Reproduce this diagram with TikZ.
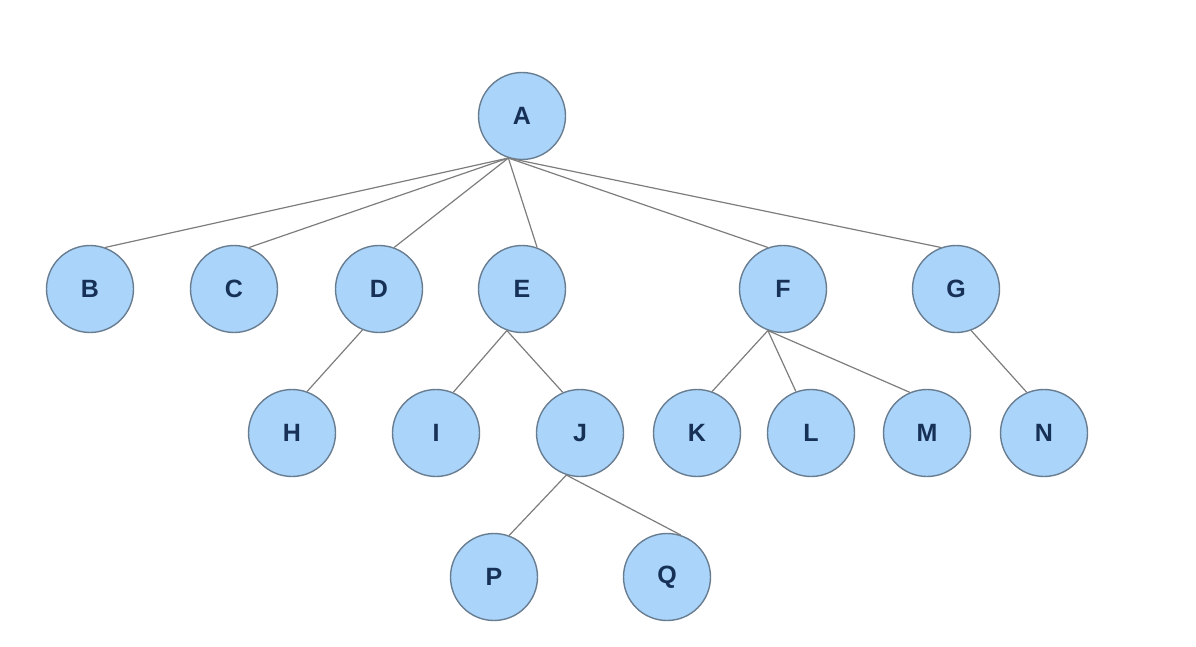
\documentclass[tikz,border=0pt]{standalone}
\usepackage{fontspec}
\setmainfont{Liberation Sans}
\definecolor{nodefill}{RGB}{170,212,250}
\definecolor{nodeedge}{RGB}{105,125,145}
\definecolor{nodetext}{RGB}{22,48,86}
\definecolor{edgecol}{RGB}{125,125,125}
\begin{document}
\begin{tikzpicture}[x=1pt,y=-1pt,
  tnode/.style={circle,draw=nodeedge,fill=nodefill,line width=1.4pt,minimum size=87pt,inner sep=0pt,
    text=nodetext,font=\fontsize{25}{28}\selectfont\bfseries},
  tedge/.style={draw=edgecol,line width=1.2pt}]
\useasboundingbox (0,0) rectangle (1196,647);
% row 1
\node[tnode] (A) at (522,116) {A};
% row 2
\node[tnode] (B) at (90,289) {B};
\node[tnode] (C) at (234,289) {C};
\node[tnode] (D) at (379,289) {D};
\node[tnode] (E) at (522,289) {E};
\node[tnode] (F) at (783,289) {F};
\node[tnode] (G) at (956,289) {G};
% row 3
\node[tnode] (H) at (292,433) {H};
\node[tnode] (I) at (436,433) {I};
\node[tnode] (J) at (580,433) {J};
\node[tnode] (K) at (697,433) {K};
\node[tnode] (L) at (811,433) {L};
\node[tnode] (M) at (927,433) {M};
\node[tnode] (N) at (1044,433) {N};
% row 4
\node[tnode] (P) at (494,577) {P};
\node[tnode] (Q) at (667,577) {Q};
% edges
\path[tedge] (A.-108) -- (B.70);
\path[tedge] (A.-108) -- (C.70);
\path[tedge] (A.-108) -- (D.70);
\path[tedge] (A.-108) -- (E.70);
\path[tedge] (A.-108) -- (F.110);
\path[tedge] (A.-108) -- (G.110);
\path[tedge] (D.-112) -- (H.70);
\path[tedge] (E.-110) -- (I.67);
\path[tedge] (E.-110) -- (J.113);
\path[tedge] (F.-110) -- (K.70);
\path[tedge] (F.-110) -- (L.110);
\path[tedge] (F.-110) -- (M.113);
\path[tedge] (G.-70) -- (N.113);
\path[tedge] (J.-108) -- (P.70);
\path[tedge] (J.-108) -- (Q.72);
\end{tikzpicture}
\end{document}
